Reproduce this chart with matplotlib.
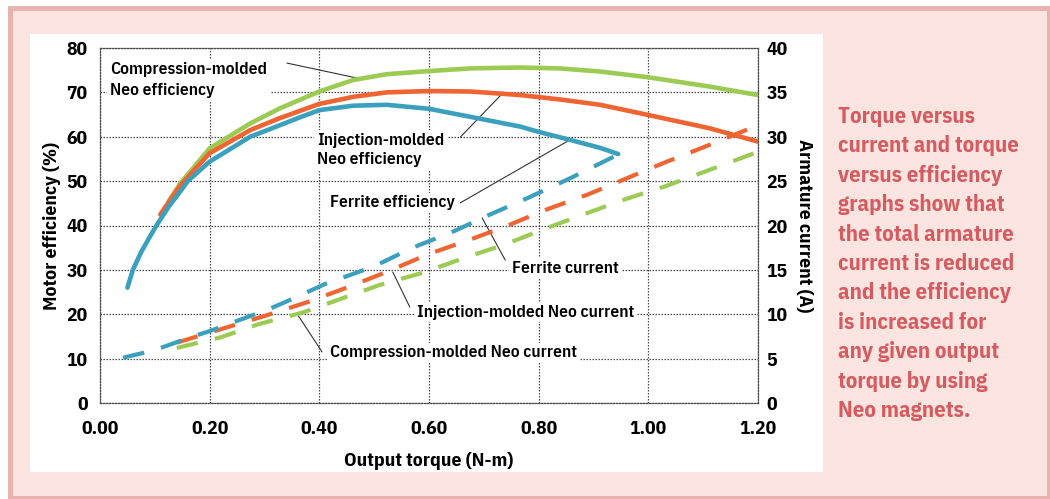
import numpy as np
import matplotlib.pyplot as plt
from matplotlib.patches import Rectangle

# efficiency curves (left axis, %)
torque_ferrite_eff = [0.05, 0.06, 0.075, 0.091, 0.103, 0.125, 0.146, 0.16, 0.20, 0.274,
                      0.328, 0.365, 0.40, 0.462, 0.523, 0.60, 0.675, 0.766, 0.80, 0.857,
                      0.912, 0.945]
eff_ferrite = [26.0, 30.0, 34.0, 37.5, 40.0, 44.2, 47.6, 50.0, 54.4, 60.0,
               62.6, 64.4, 66.0, 67.0, 67.2, 66.3, 64.5, 62.3, 61.1, 59.3,
               57.5, 56.1]

torque_inj_eff = [0.11, 0.146, 0.20, 0.274, 0.328, 0.40, 0.462, 0.523, 0.60, 0.675,
                  0.766, 0.839, 0.912, 1.00, 1.112, 1.20]
eff_inj = [42.5, 49.0, 56.3, 61.5, 64.2, 67.4, 69.0, 70.0, 70.3, 70.2,
           69.4, 68.4, 67.2, 64.9, 61.9, 58.9]

torque_comp_eff = [0.125, 0.146, 0.20, 0.274, 0.328, 0.40, 0.462, 0.523, 0.60, 0.675,
                   0.766, 0.839, 0.912, 1.00, 1.112, 1.20]
eff_comp = [45.4, 49.4, 57.4, 63.0, 66.4, 70.2, 72.8, 74.1, 74.8, 75.4,
            75.6, 75.4, 74.7, 73.4, 71.3, 69.4]

# armature current (right axis, A)
torque_ferrite_cur = [0.042, 0.086, 0.115, 0.16, 0.20, 0.25, 0.305, 0.35, 0.41, 0.50,
                      0.57, 0.64, 0.71, 0.78, 0.86, 0.945]
cur_ferrite = [5.1, 5.75, 6.3, 7.3, 8.1, 9.25, 10.5, 11.7, 13.4, 15.4,
               17.5, 19.2, 21.2, 23.1, 25.4, 28.0]

torque_inj_cur = [0.14, 0.23, 0.30, 0.38, 0.45, 0.52, 0.60, 0.67, 0.74, 0.81,
                  0.89, 0.96, 1.03, 1.10, 1.20]
cur_inj = [6.8, 8.5, 9.8, 11.4, 13.0, 14.7, 16.8, 18.3, 19.9, 21.7,
           23.5, 25.3, 27.1, 28.8, 31.3]

torque_comp_cur = [0.14, 0.22, 0.29, 0.37, 0.44, 0.51, 0.59, 0.66, 0.74, 0.81,
                   0.88, 0.95, 1.03, 1.10, 1.20]
cur_comp = [6.2, 7.4, 8.9, 10.2, 11.75, 13.3, 14.7, 16.25, 17.9, 19.6,
            21.2, 22.8, 24.4, 26.0, 28.3]

x_ticks = [0.0, 0.2, 0.4, 0.6, 0.8, 1.0, 1.2]
x_labels = ['0.00', '0.20', '0.40', '0.60', '0.80', '1.00', '1.20']
eff_ticks = list(range(0, 81, 10))
cur_ticks = list(range(0, 41, 5))

caption = ['Torque versus', 'current and torque', 'versus efficiency',
           'graphs show that', 'the total armature', 'current is reduced',
           'and the efficiency', 'is increased for', 'any given output',
           'torque by using', 'Neo magnets.']

BLUE = '#3aa0be'
ORANGE = '#f06432'
GREEN = '#9ccb54'
PINK = '#fce4e0'
NARROW = ['IBM Plex Sans Condensed', 'DejaVu Sans']

W, H = 1050, 499
fig = plt.figure(figsize=(W / 100, H / 100), dpi=100, facecolor='white')

def fx(px):
    return px / W

def fy(py):
    return 1 - py / H

# pink frame and white panel
fig.add_artist(Rectangle((fx(9.5), fy(498)), fx(1039), 490.5 / H, transform=fig.transFigure,
                         facecolor=PINK, edgecolor='#e8b2ae', lw=3.6, zorder=-3))
fig.add_artist(Rectangle((fx(30), fy(472)), fx(793), 438 / H, transform=fig.transFigure,
                         facecolor='white', edgecolor='none', zorder=-2))

ax = fig.add_axes([fx(100), fy(403), fx(658), 355 / H])
ax.set_facecolor('none')
ax2 = ax.twinx()

ax.set_xlim(0, 1.2)
ax.set_ylim(0, 80)
ax2.set_ylim(0, 40)

ax.set_xticks(x_ticks)
ax.set_xticklabels(x_labels)
ax.set_yticks(eff_ticks)
ax2.set_yticks(cur_ticks)

tick_font = dict(family=NARROW, weight='bold', size=14)
for lab in ax.get_xticklabels() + ax.get_yticklabels() + ax2.get_yticklabels():
    lab.set_fontfamily(NARROW)
    lab.set_fontweight('bold')
    lab.set_fontsize(14)
ax.tick_params(length=0, pad=9)
ax.tick_params(axis='x', pad=12)
ax2.tick_params(length=0, pad=6)

ax.grid(True, color='#4a4a4a', lw=0.9, linestyle=(0, (1.2, 1.2)), zorder=0)
ax.set_axisbelow(True)
for s in ax.spines.values():
    s.set_linestyle((0, (1.2, 1.2)))
    s.set_color('#4a4a4a')
    s.set_linewidth(0.9)
for s in ax2.spines.values():
    s.set_visible(False)

ax.set_xlabel('Output torque (N-m)', fontdict=tick_font, labelpad=10)
ax.set_ylabel('Motor efficiency (%)', fontdict=tick_font, labelpad=4)
ax2.set_ylabel('Armature current (A)', fontdict=tick_font, rotation=-90, labelpad=18)

# efficiency (solid)
ax.plot(torque_comp_eff, eff_comp, color=GREEN, lw=3.3, zorder=3, solid_capstyle='round')
ax.plot(torque_inj_eff, eff_inj, color=ORANGE, lw=3.3, zorder=4, solid_capstyle='round')
ax.plot(torque_ferrite_eff, eff_ferrite, color=BLUE, lw=3.3, zorder=5, solid_capstyle='round')

# current (dashed)
dash = (5.2, 4.2)
ax2.plot(torque_comp_cur, cur_comp, color=GREEN, lw=3.0, dashes=dash, zorder=3)
ax2.plot(torque_inj_cur, cur_inj, color=ORANGE, lw=3.0, dashes=dash, zorder=4)
ax2.plot(torque_ferrite_cur, cur_ferrite, color=BLUE, lw=3.0, dashes=dash, zorder=5)

# labels with leaders
lab_font = dict(family=NARROW, size=12.5, color='black', weight='semibold')
box = dict(facecolor='white', edgecolor='none', pad=2)
ax.text(0.018, 72.7, 'Compression-molded\nNeo efficiency', ha='left', va='center',
        linespacing=1.5, bbox=box, zorder=2, **lab_font)
ax.text(0.396, 57.0, 'Injection-molded\nNeo efficiency', ha='left', va='center',
        linespacing=1.35, bbox=box, zorder=2, **lab_font)
ax.text(0.419, 45.1, 'Ferrite efficiency', ha='left', va='center', bbox=box, zorder=2, **lab_font)
ax.text(0.751, 30.4, 'Ferrite current', ha='left', va='center', bbox=box, zorder=2, **lab_font)
ax.text(0.578, 20.5, 'Injection-molded Neo current', ha='left', va='center', bbox=box,
        zorder=2, **lab_font)
ax.text(0.419, 11.3, 'Compression-molded Neo current', ha='left', va='center', bbox=box,
        zorder=2, **lab_font)

leader = dict(arrowstyle='-', color='#333333', lw=0.8, shrinkA=0, shrinkB=0)
ax.annotate('', xy=(0.47, 73.2), xytext=(0.341, 76.6), arrowprops=leader, zorder=2.5)
ax.annotate('', xy=(0.735, 69.9), xytext=(0.657, 59.9), arrowprops=leader, zorder=2.5)
ax.annotate('', xy=(0.857, 59.3), xytext=(0.657, 45.1), arrowprops=leader, zorder=2.5)
ax.annotate('', xy=(0.697, 41.7), xytext=(0.739, 32.2), arrowprops=leader, zorder=2.5)
ax.annotate('', xy=(0.534, 29.5), xytext=(0.565, 21.6), arrowprops=leader, zorder=2.5)
ax.annotate('', xy=(0.361, 19.8), xytext=(0.405, 11.5), arrowprops=leader, zorder=2.5)

# caption
for i, line in enumerate(caption):
    fig.text(fx(838), fy(123 + i * 29.4), line, ha='left', va='baseline',
             family=NARROW, weight='bold', size=16.3, color='#d65b60')

fig.savefig('out.png', dpi=100, facecolor='white')
